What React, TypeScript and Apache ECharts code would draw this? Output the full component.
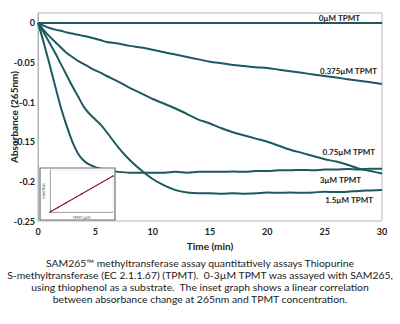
import React, { useEffect, useRef } from "react";
import * as echarts from "echarts";

const timeMin = [0, 0.5, 1, 1.5, 2, 2.5, 3, 3.5, 4, 4.5, 5, 5.5, 6, 7, 8, 9, 10, 11, 12, 13, 14, 15, 16, 17, 18, 19, 20, 21, 22, 23, 24, 25, 26, 27, 28, 29, 30];

const tpmt0 = [0, 0, 0, 0, 0, 0, 0, 0, 0, 0, 0, 0, 0, 0, 0, 0, 0, 0, 0, 0, 0, 0, 0, 0, 0, 0, 0, 0, 0, 0, 0, 0, 0, 0, 0, 0, 0];
const tpmt0375 = [0, -0.0035, -0.0065, -0.0085, -0.01, -0.012, -0.0135, -0.015, -0.0165, -0.018, -0.02, -0.022, -0.024, -0.026, -0.029, -0.031, -0.034, -0.037, -0.04, -0.043, -0.046, -0.049, -0.051, -0.053, -0.0545, -0.056, -0.057, -0.059, -0.061, -0.063, -0.065, -0.067, -0.069, -0.071, -0.073, -0.075, -0.077];
const tpmt075 = [0, -0.009, -0.017, -0.024, -0.031, -0.038, -0.043, -0.048, -0.052, -0.056, -0.06, -0.063, -0.067, -0.074, -0.082, -0.089, -0.096, -0.102, -0.108, -0.115, -0.122, -0.127, -0.133, -0.138, -0.142, -0.146, -0.15, -0.155, -0.16, -0.164, -0.168, -0.172, -0.175, -0.179, -0.184, -0.187, -0.19];
const tpmt15 = [0, -0.012, -0.025, -0.038, -0.052, -0.066, -0.08, -0.093, -0.106, -0.115, -0.122, -0.129, -0.138, -0.157, -0.173, -0.186, -0.197, -0.205, -0.211, -0.214, -0.215, -0.215, -0.2155, -0.215, -0.2155, -0.215, -0.214, -0.2145, -0.214, -0.2145, -0.214, -0.213, -0.2135, -0.213, -0.212, -0.2115, -0.211];
const tpmt3 = [0, -0.025, -0.052, -0.08, -0.107, -0.13, -0.15, -0.165, -0.174, -0.179, -0.182, -0.184, -0.186, -0.188, -0.189, -0.189, -0.189, -0.189, -0.188, -0.189, -0.188, -0.188, -0.188, -0.1875, -0.188, -0.187, -0.187, -0.186, -0.186, -0.1855, -0.186, -0.185, -0.185, -0.1845, -0.185, -0.184, -0.184];

const seriesLabels = ["0µM TPMT", "0.375µM TPMT", "0.75µM TPMT", "1.5µM TPMT", "3µM TPMT"];

const insetConc = [0, 0.375, 0.75, 1.5, 3];
const insetRate = [0, 0.0075, 0.015, 0.03, 0.06];

const yTicks = [-0.25, -0.2, -0.15, -0.1, -0.05, 0];

const caption =
  "SAM265™ methyltransferase assay quantitatively assays Thiopurine\n" +
  "S-methyltransferase (EC 2.1.1.67) (TPMT).  0-3µM TPMT was assayed with SAM265,\n" +
  "using thiophenol as a substrate.  The inset graph shows a linear correlation\n" +
  "between absorbance change at 265nm and TPMT concentration.";

const LINE = "#1c5a60";
const FONT = "Lato";

export default function App() {
  const ref = useRef<HTMLDivElement>(null);
  useEffect(() => {
    if (!ref.current) return;
    const chart = echarts.init(ref.current, undefined, { renderer: "svg" });
    const all = [tpmt0, tpmt0375, tpmt075, tpmt15, tpmt3];
    const mainSeries = all.map((vals, i) => ({
      type: "line",
      name: seriesLabels[i],
      xAxisIndex: 0,
      yAxisIndex: 0,
      data: timeMin.map((t, k) => [t, vals[k]]),
      showSymbol: false,
      smooth: 0.3,
      lineStyle: { color: LINE, width: 2 },
      z: 2,
    }));
    const labelPos = [
      [360, 18],
      [377, 71],
      [375, 152],
      [373, 200],
      [361, 180],
    ];
    chart.setOption({
      animation: false,
      backgroundColor: "#fff",
      textStyle: { fontFamily: FONT },
      grid: [
        { left: 38, right: 18, top: 13, bottom: 103, containLabel: false, outerBoundsMode: "none", show: true, borderColor: "#b5b5b5", borderWidth: 1 },
        { left: 50, top: 170, width: 63, height: 42, containLabel: false, outerBoundsMode: "none", show: true, borderColor: "#d5d5d5", borderWidth: 0.5, z: 6 },
      ],
      xAxis: [
        {
          type: "value",
          gridIndex: 0,
          min: 0,
          max: 30,
          interval: 5,
          name: "Time (min)",
          nameLocation: "middle",
          nameGap: 20,
          nameMoveOverlap: false,
          nameTextStyle: { fontFamily: FONT, fontWeight: "bold", fontSize: 10, color: "#222" },
          axisLine: { show: true, lineStyle: { color: "#b5b5b5" } },
          axisTick: { show: false },
          splitLine: { show: false },
          axisLabel: { fontFamily: FONT, fontWeight: "bold", fontSize: 9, color: "#222", margin: 6 },
        },
        {
          type: "value",
          gridIndex: 1,
          min: 0,
          max: 3,
          name: "TPMT (µM)",
          nameLocation: "middle",
          nameGap: 4,
          nameMoveOverlap: false,
          nameTextStyle: { fontSize: 3.5, color: "#555" },
          axisLine: { show: true, lineStyle: { color: "#888", width: 0.7 } },
          axisTick: { show: false },
          splitLine: { show: false },
          axisLabel: { show: false },
          z: 7,
        },
      ],
      yAxis: [
        {
          type: "value",
          gridIndex: 0,
          min: -0.25,
          max: 0.0125,
          interval: 0.05,
          name: "Absorbance (265nm)",
          nameLocation: "middle",
          nameGap: 19,
          nameMoveOverlap: false,
          nameTextStyle: { fontFamily: FONT, fontWeight: "bold", fontSize: 10, color: "#222" },
          axisLine: { show: true, lineStyle: { color: "#b5b5b5" } },
          axisTick: { show: false },
          splitLine: { show: false },
          axisLabel: {
            fontFamily: FONT,
            fontWeight: "bold",
            fontSize: 9,
            color: "#222",
            margin: 3,
            showMaxLabel: false,
            formatter: (v: number) => {
              const hit = yTicks.find((t) => Math.abs(t - v) < 1e-6);
              return hit === undefined ? "" : String(hit);
            },
          },
        },
        {
          type: "value",
          gridIndex: 1,
          min: 0,
          max: 0.07,
          name: "Initial Rate",
          nameLocation: "middle",
          nameGap: 4,
          nameMoveOverlap: false,
          nameTextStyle: { fontSize: 3.5, color: "#555" },
          axisLine: { show: true, lineStyle: { color: "#888", width: 0.7 } },
          axisTick: { show: false },
          splitLine: { show: false },
          axisLabel: { show: false },
          z: 7,
        },
      ],
      series: [
        ...mainSeries,
        {
          type: "line",
          xAxisIndex: 1,
          yAxisIndex: 1,
          data: insetConc.map((c, k) => [c, insetRate[k]]),
          symbol: "circle",
          symbolSize: 1.5,
          itemStyle: { color: "#8a1f24" },
          lineStyle: { color: "#8a1f24", width: 1.3 },
          z: 8,
        },
      ],
      graphic: [
        {
          type: "rect",
          shape: { x: 40, y: 168, width: 75, height: 52 },
          style: { fill: "#fff", stroke: "#6f6f6f", lineWidth: 1.2 },
          z: 5,
        },
        ...seriesLabels.map((s, i) => ({
          type: "text",
          x: labelPos[i][0],
          y: labelPos[i][1],
          z: 10,
          style: {
            text: s,
            textAlign: "right",
            textVerticalAlign: "middle",
            fontFamily: FONT,
            fontWeight: "bold",
            fontSize: 8,
            fill: "#222",
          },
        })),
        {
          type: "text",
          x: 200,
          y: 257,
          style: {
            text: caption,
            textAlign: "center",
            textVerticalAlign: "top",
            fontFamily: FONT,
            fontSize: 10.4,
            lineHeight: 12,
            fill: "#222",
          },
        },
      ],
    });
    return () => chart.dispose();
  }, []);
  return (
    <div
      ref={ref}
      style={{ position: "fixed", left: 0, top: 0, width: 400, height: 324, background: "#fff" }}
    />
  );
}
